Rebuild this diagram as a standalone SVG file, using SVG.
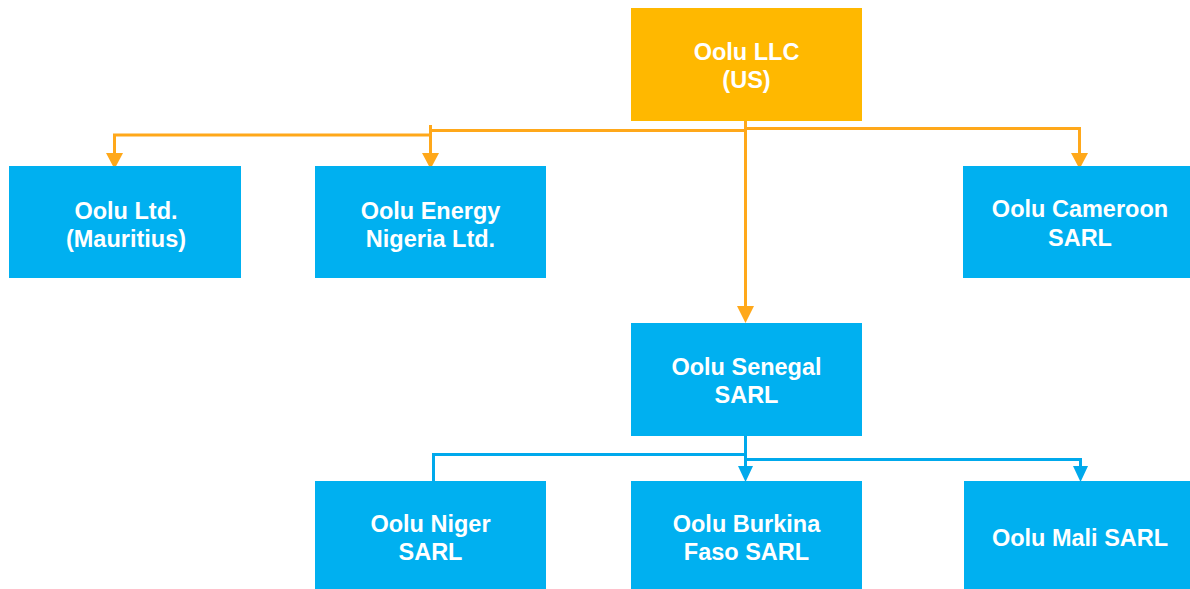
<svg xmlns="http://www.w3.org/2000/svg" width="1190" height="589" viewBox="0 0 1190 589">
<style>
.box{fill:#00B0F0}
.top{fill:#FFB800}
text{font-family:"Liberation Sans",Arial,sans-serif;font-weight:bold;font-size:23.5px;fill:#FFFFFF;text-anchor:middle}
.o{fill:none;stroke:#FFA81A;stroke-width:3}
.b{fill:none;stroke:#00A9EC;stroke-width:3}
.ho{fill:#FFA81A}
.hb{fill:#00A9EC}
</style>
<rect width="1190" height="589" fill="#FFFFFF"/>
<g id="connectors">
<path class="o" d="M745.5,121 V307"/>
<path class="ho" d="M737,306 L754,306 L745.5,323 Z"/>
<path class="o" d="M745.5,130.5 H430.5"/>
<path class="o" d="M430.5,125 V154"/>
<path class="ho" d="M422,153 L439,153 L430.5,169 Z"/>
<path class="o" d="M430.5,135 H114.5 V154"/>
<path class="ho" d="M106,153 L123,153 L114.5,169 Z"/>
<path class="o" d="M745.5,128.5 H1079.5 V154"/>
<path class="ho" d="M1071,153 L1088,153 L1079.5,169 Z"/>
<path class="b" d="M745.5,436 V467"/>
<path class="hb" d="M738,466 L753,466 L745.5,482 Z"/>
<path class="b" d="M745.5,454.5 H433.5 V482"/>
<path class="b" d="M745.5,459.5 H1080.5 V467"/>
<path class="hb" d="M1073,466 L1088,466 L1080.5,482 Z"/>
</g>
<g id="n-us"><rect class="top" x="631" y="8" width="231" height="113"/><text x="746.5" y="60">Oolu LLC</text><text x="746.5" y="88">(US)</text></g>
<g id="n-mauritius"><rect class="box" x="9" y="166" width="232" height="112"/><text x="126" y="219">Oolu Ltd.</text><text x="126" y="247">(Mauritius)</text></g>
<g id="n-nigeria"><rect class="box" x="315" y="166" width="231" height="112"/><text x="430.5" y="219">Oolu Energy</text><text x="430.5" y="247">Nigeria Ltd.</text></g>
<g id="n-cameroon"><rect class="box" x="963" y="166" width="227" height="112"/><text x="1080" y="217">Oolu Cameroon</text><text x="1080" y="246">SARL</text></g>
<g id="n-senegal"><rect class="box" x="631" y="323" width="231" height="113"/><text x="746.5" y="375">Oolu Senegal</text><text x="746.5" y="403">SARL</text></g>
<g id="n-niger"><rect class="box" x="315" y="481" width="231" height="108"/><text x="430.5" y="532">Oolu Niger</text><text x="430.5" y="560">SARL</text></g>
<g id="n-burkina"><rect class="box" x="631" y="481" width="231" height="108"/><text x="746.5" y="532">Oolu Burkina</text><text x="746.5" y="560">Faso SARL</text></g>
<g id="n-mali"><rect class="box" x="964" y="481" width="226" height="108"/><text x="1080" y="546">Oolu Mali SARL</text></g>
</svg>
